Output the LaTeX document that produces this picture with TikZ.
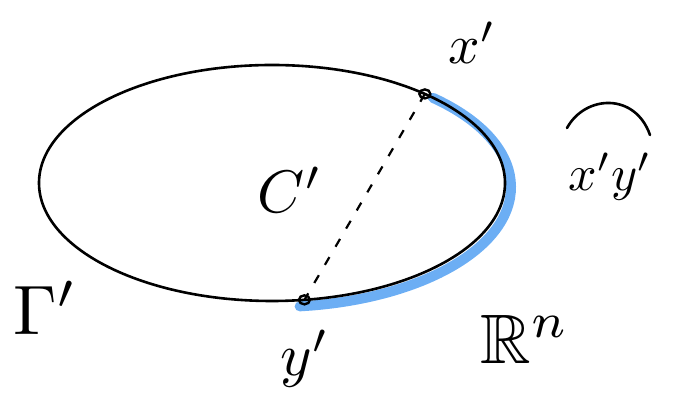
\documentclass[tikz,border=0pt]{standalone}
\usepackage{amsmath,amssymb}
\usepackage{xcolor}
\usetikzlibrary{calc, shapes.geometric}

\definecolor{arcblue}{RGB}{108,174,244}

\begin{document}
\begin{tikzpicture}[
    x=1pt, y=1pt,
    curve/.style={line width=2.6pt, line cap=round},
    marked/.style={line width=10pt, arcblue, line cap=round},
    chord/.style={line width=2.2pt, dash pattern=on 9pt off 12pt},
    pt/.style={ellipse, draw, line width=2.4pt, inner sep=0pt,
               minimum width=11pt, minimum height=9pt},
    big/.style={scale=7, inner sep=0pt},
    med/.style={scale=6, inner sep=0pt},
]
\useasboundingbox (0,0) rectangle (674,411);

% ── Curve and its points ──
\coordinate (c) at (272,228);
\coordinate (xp) at ($(c)+(49:233 and 118)$);
\coordinate (yp) at ($(c)+(-82:233 and 118)$);

% ── Marked arc ──
\coordinate (bc) at (275,224);
\draw[marked] ($(bc)+(48:236 and 120)$) arc[start angle=48, end angle=-84,
  x radius=236, y radius=120];

\draw[curve] (c) ellipse[x radius=233, y radius=118];
\draw[chord] (xp) -- (yp);
\node[pt] (xdot) at (xp) {};
\node[pt] (ydot) at (yp) {};

% ── Labels ──
\node[med, scale=0.92] (xlab) at (472,368) {$x'$};
\node[med] (ylab) at (305,52) {$y'$};
\node[med] (clab) at (290,221) {$C'$};
\node[big] (glab) at (45,103) {$\Gamma'$};
\node[big] (rlab) at (525,72) {$\mathbb{R}^n$};
\node[scale=5, inner sep=0pt] (arclab) at (610,234) {$x'y'$};
\draw[curve] ($(arclab.center)+(-43,49)$) .. controls
  ($(arclab.center)+(-25,82)$) and ($(arclab.center)+(25,85)$) ..
  ($(arclab.center)+(40,42)$);

\end{tikzpicture}
\end{document}
